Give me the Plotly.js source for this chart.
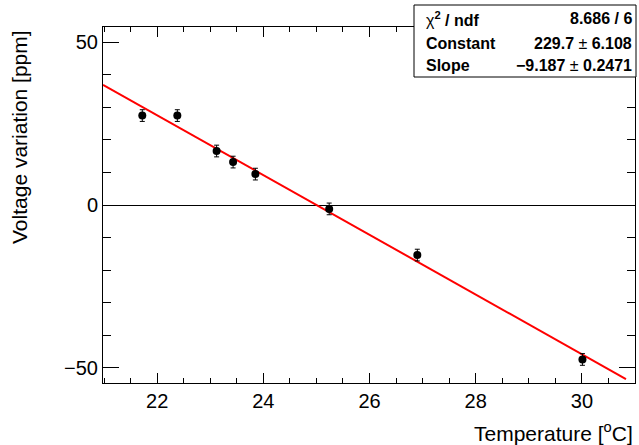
<!DOCTYPE html>
<html>
<head>
<meta charset="utf-8">
<script src="https://cdn.plot.ly/plotly-3.0.1.min.js"></script>
<style>
  html, body { margin: 0; padding: 0; background: #ffffff; }
  #plot { width: 639px; height: 445px; }
</style>
</head>
<body>
<div id="plot"></div>
<script>
// Measured voltage drift versus temperature
const temperature = [21.72, 22.38, 23.12, 23.43, 23.85, 25.24, 26.90, 30.01];
const voltageVar  = [27.5, 27.5, 16.6, 13.2, 9.5, -1.2, -15.4, -47.5];
const voltageErr  = [1.8, 1.8, 1.8, 1.8, 1.8, 1.8, 1.8, 1.8];

// Linear fit result (pol1): V = constant + slope * T
const fitConstant = 229.7;
const fitConstantErr = 6.108;
const fitSlope = -9.187;
const fitSlopeErr = 0.2471;
const fitChi2 = 8.686;
const fitNdf = 6;
const fitRange = [20.98, 30.83];

// Axis ranges
const xRange = [20.98, 31.0];
const yRange = [-54.74, 54.74];

const fitX = fitRange.slice();
const fitY = fitX.map(t => fitConstant + fitSlope * t);

const FONT = '"Liberation Sans", Arial, Helvetica, sans-serif';

const traces = [
  {
    x: fitX, y: fitY, type: 'scatter', mode: 'lines',
    line: { color: '#ff0000', width: 2 },
    hoverinfo: 'skip', showlegend: false
  },
  {
    x: temperature, y: voltageVar, type: 'scatter', mode: 'markers',
    marker: { color: '#000000', size: 8, symbol: 'circle' },
    error_y: { type: 'data', array: voltageErr, visible: true,
               color: '#000000', thickness: 1, width: 2.5 },
    showlegend: false
  }
];

// Plot area in pixels: x 103..635, y 27..383
const L = 103, R = 4, T = 27, B = 62;
const W = 639, H = 445;
const pw = W - L - R, ph = H - T - B;
const px2x = p => (p - L) / pw;
const px2y = p => (H - B - p) / ph;

const statsLeft = 414, statsRight = 636, statsTop = 5, statsBottom = 77;
const rowsY = [18.5, 43, 65.5];
const fmtRight = (v, e) =>
  '<b>' + v + '</b> ± <b>' + e + '</b>';

const boxFontSize = 16;
const annotations = [
  // axis titles
  {
    xref: 'paper', yref: 'paper', x: 1.0, y: px2y(432),
    xanchor: 'right', yanchor: 'middle', showarrow: false,
    text: 'Temperature [<sup>o</sup>C]',
    font: { family: FONT, size: 21, color: '#000000' }
  },
  {
    xref: 'paper', yref: 'paper', x: px2x(20), y: px2y(28),
    xanchor: 'center', yanchor: 'top', showarrow: false, textangle: -90,
    text: 'Voltage variation [ppm]',
    font: { family: FONT, size: 21, color: '#000000' }
  },
  // fit statistics box rows
  {
    xref: 'paper', yref: 'paper', x: px2x(424), y: px2y(rowsY[0]),
    xanchor: 'left', yanchor: 'middle', showarrow: false,
    text: 'χ<sup><b>2</b></sup><b> / ndf</b>',
    font: { family: FONT, size: boxFontSize, color: '#000000' }
  },
  {
    xref: 'paper', yref: 'paper', x: px2x(634), y: px2y(rowsY[0]),
    xanchor: 'right', yanchor: 'middle', showarrow: false,
    text: '<b>' + fitChi2.toFixed(3) + ' / ' + fitNdf + '</b>',
    font: { family: FONT, size: boxFontSize, color: '#000000' }
  },
  {
    xref: 'paper', yref: 'paper', x: px2x(424), y: px2y(rowsY[1]),
    xanchor: 'left', yanchor: 'middle', showarrow: false,
    text: '<b>Constant</b>',
    font: { family: FONT, size: boxFontSize, color: '#000000' }
  },
  {
    xref: 'paper', yref: 'paper', x: px2x(634), y: px2y(rowsY[1]),
    xanchor: 'right', yanchor: 'middle', showarrow: false,
    text: fmtRight(fitConstant.toFixed(1), fitConstantErr.toFixed(3)),
    font: { family: FONT, size: boxFontSize, color: '#000000' }
  },
  {
    xref: 'paper', yref: 'paper', x: px2x(424), y: px2y(rowsY[2]),
    xanchor: 'left', yanchor: 'middle', showarrow: false,
    text: '<b>Slope</b>',
    font: { family: FONT, size: boxFontSize, color: '#000000' }
  },
  {
    xref: 'paper', yref: 'paper', x: px2x(634), y: px2y(rowsY[2]),
    xanchor: 'right', yanchor: 'middle', showarrow: false,
    text: fmtRight('−' + Math.abs(fitSlope).toFixed(3), fitSlopeErr.toFixed(4)),
    font: { family: FONT, size: boxFontSize, color: '#000000' }
  }
];

const shapes = [
  {
    type: 'rect', xref: 'paper', yref: 'paper', layer: 'above',
    x0: px2x(statsLeft), x1: px2x(statsRight),
    y0: px2y(statsBottom), y1: px2y(statsTop),
    fillcolor: '#ffffff', line: { color: '#000000', width: 1 }
  }
];

const axisCommon = {
  showgrid: false, showline: true, linecolor: '#000000', linewidth: 1,
  mirror: 'allticks', ticks: 'inside', tickcolor: '#000000', tickwidth: 1,
  tickfont: { family: FONT, size: 20, color: '#000000' }
};

const layout = {
  width: W, height: H,
  margin: { l: L, r: R, t: T, b: B, pad: 0 },
  paper_bgcolor: '#ffffff', plot_bgcolor: '#ffffff',
  showlegend: false,
  xaxis: Object.assign({}, axisCommon, {
    range: xRange, tickmode: 'linear', tick0: 20, dtick: 2, ticklen: 10,
    minor: { ticks: 'inside', dtick: 0.5, tick0: 20, ticklen: 5,
             tickcolor: '#000000', tickwidth: 1 },
    zeroline: false
  }),
  yaxis: Object.assign({}, axisCommon, {
    range: yRange, tickmode: 'linear', tick0: 0, dtick: 50, ticklen: 16,
    minor: { ticks: 'inside', dtick: 10, tick0: 0, ticklen: 8,
             tickcolor: '#000000', tickwidth: 1 },
    zeroline: true, zerolinecolor: '#000000', zerolinewidth: 1
  }),
  annotations: annotations,
  shapes: shapes
};

Plotly.newPlot('plot', traces, layout, { displayModeBar: false, staticPlot: true });
</script>
</body>
</html>
